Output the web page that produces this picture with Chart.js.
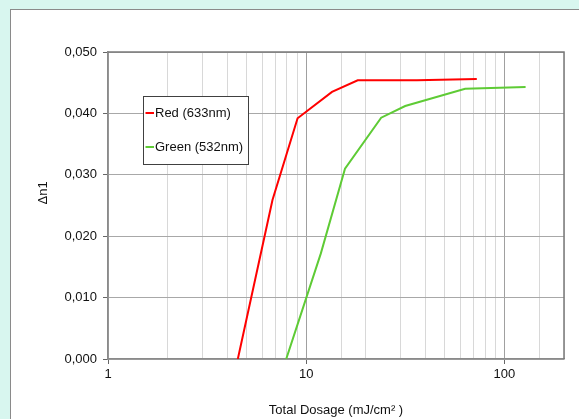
<!DOCTYPE html>
<html>
<head>
<meta charset="utf-8">
<script src="https://cdn.jsdelivr.net/npm/chart.js@4.4.1/dist/chart.umd.min.js"></script>
<style>
  html, body { margin: 0; padding: 0; background: #d8f6ef; width: 579px; height: 419px; overflow: hidden; }
  #panel { position: absolute; left: 10px; top: 9px; width: 600px; height: 500px; background: #ffffff; border-left: 1px solid #8a8a8a; border-top: 1px solid #8a8a8a; }
  #c { position: absolute; left: 0; top: 0; }
</style>
</head>
<body>
<div id="panel"></div>
<canvas id="c" width="579" height="419"></canvas>
<script>
// ---- data ----
const redLabel = 'Red (633nm)';
const redDose = [4.52, 6.76, 9.05, 13.5, 18.2, 36.2, 72.6];
const redDn = [0.0, 0.0259, 0.0392, 0.0435, 0.0454, 0.0454, 0.0456];

const greenLabel = 'Green (532nm)';
const greenDose = [7.93, 11.86, 15.7, 23.9, 31.6, 63.4, 128];
const greenDn = [0.0, 0.0172, 0.0310, 0.0393, 0.0412, 0.0440, 0.0443];

const xMajorTicks = [1, 10, 100];
const xMin = 1, xMax = 200;
const yMin = 0, yMax = 0.05, yStep = 0.01;

const xTitle = 'Total Dosage (mJ/cm\u00B2 )';
const yTitle = '\u0394n1';

const FONT = 'Liberation Sans, Arial, Helvetica, sans-serif';

function pts(xs, ys) { return xs.map((x, i) => ({ x: x, y: ys[i] })); }

const legendPlugin = {
  id: 'boxLegend',
  afterDraw(chart) {
    const ctx = chart.ctx;
    const bx = 143.5, by = 96.5, bw = 105, bh = 68;
    ctx.save();
    ctx.fillStyle = '#ffffff';
    ctx.fillRect(bx, by, bw, bh);
    ctx.strokeStyle = '#404040';
    ctx.lineWidth = 1;
    ctx.strokeRect(bx, by, bw, bh);
    ctx.font = '13px ' + FONT;
    ctx.textBaseline = 'middle';
    ctx.textAlign = 'left';
    const rows = [113, 147];
    chart.data.datasets.forEach((ds, i) => {
      const y = rows[i];
      ctx.strokeStyle = ds.borderColor;
      ctx.lineWidth = 2;
      ctx.beginPath();
      ctx.moveTo(145.5, y);
      ctx.lineTo(154, y);
      ctx.stroke();
      ctx.fillStyle = '#111111';
      ctx.fillText(ds.label, 155, y + 0.5);
    });
    ctx.restore();
  }
};

const frame = {
  id: 'frame',
  afterDatasetsDraw(chart) {
    const a = chart.chartArea, ctx = chart.ctx;
    ctx.save();
    ctx.strokeStyle = '#7a7a7a';
    ctx.lineWidth = 1.5;
    ctx.beginPath();
    ctx.moveTo(a.left, a.top);
    ctx.lineTo(a.right, a.top);
    ctx.lineTo(a.right, a.bottom);
    ctx.stroke();
    ctx.restore();
  }
};

new Chart(document.getElementById('c'), {
  type: 'scatter',
  data: {
    datasets: [
      { label: redLabel, data: pts(redDose, redDn), showLine: true, borderColor: '#ff0000', backgroundColor: '#ff0000', borderWidth: 2, pointRadius: 0, tension: 0 },
      { label: greenLabel, data: pts(greenDose, greenDn), showLine: true, borderColor: '#5ecb35', backgroundColor: '#5ecb35', borderWidth: 2, pointRadius: 0, tension: 0 }
    ]
  },
  options: {
    responsive: false,
    animation: false,
    layout: { padding: { left: 0, top: 52, right: 15, bottom: 0 } },
    plugins: { legend: { display: false }, tooltip: { enabled: false } },
    scales: {
      x: {
        type: 'logarithmic',
        min: xMin, max: xMax,
        afterFit(s) { s.height = 60; },
        border: { display: true, color: '#8a8a8a', width: 1.5 },
        grid: {
          color(c) {
            const v = c.tick ? c.tick.value : 0;
            if (xMajorTicks.includes(v)) return '#a0a0a0';
            return '#d8d8d8';
          },
          lineWidth: 1,
          tickLength: 5,
          tickColor(c) {
            const v = c.tick ? c.tick.value : 0;
            return xMajorTicks.includes(v) ? '#666666' : 'rgba(0,0,0,0)';
          }
        },
        ticks: {
          autoSkip: false, maxRotation: 0, padding: 3,
          color: '#111111', font: { family: FONT, size: 13 },
          callback(v) { return xMajorTicks.includes(v) ? String(v) : ''; }
        },
        title: { display: true, text: xTitle, color: '#111111', font: { family: FONT, size: 13 }, padding: { top: 0, bottom: 1 } }
      },
      y: {
        min: yMin, max: yMax,
        afterFit(s) { s.width = 108; },
        border: { display: true, color: '#8a8a8a', width: 1.5 },
        grid: { color: '#a8a8a8', lineWidth: 1, tickLength: 5, tickColor: '#666666' },
        ticks: {
          stepSize: yStep, padding: 6,
          color: '#111111', font: { family: FONT, size: 13 },
          callback(v) { return v.toFixed(3).replace('.', ','); }
        },
        title: { display: true, text: '       ' + yTitle, color: '#111111', font: { family: FONT, size: 13 }, padding: { top: 36, bottom: 0 } }
      }
    }
  },
  plugins: [frame, legendPlugin]
});
</script>
</body>
</html>
